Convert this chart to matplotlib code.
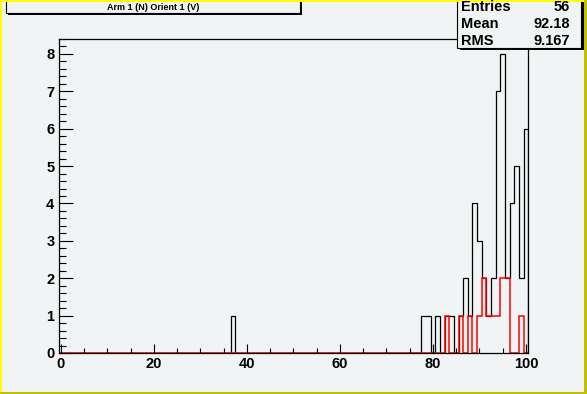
import numpy as np
import matplotlib
matplotlib.use('Agg')
import matplotlib.pyplot as plt
from matplotlib.patches import Rectangle
from matplotlib.ticker import MultipleLocator

# histogram contents (bin centre -> count), bins of width 1 from -0.5 to 100.5
all_bins = [37, 78, 79, 81, 83, 84, 86, 87, 88, 89, 90, 91, 92, 93, 94, 95, 96, 97, 98, 99, 100]
all_counts = [1, 1, 1, 1, 1, 1, 1, 2, 1, 4, 3, 2, 1, 2, 7, 8, 2, 4, 5, 2, 6]
red_bins = [83, 86, 88, 90, 91, 92, 93, 94, 95, 96, 99]
red_counts = [1, 1, 1, 1, 2, 1, 1, 1, 2, 2, 1]

title = 'Arm 1 (N) Orient 1 (V)'
stat_names = ['Entries', 'Mean', 'RMS']
stat_values = ['56', '92.18', '9.167']
x_ticks = [0, 20, 40, 60, 80, 100]
y_ticks = [0, 1, 2, 3, 4, 5, 6, 7, 8]

bg = '#f1f4f5'
W, H = 587, 394

edges = np.arange(-0.5, 101.5, 1.0)
h_all = np.zeros(101)
h_all[all_bins] = all_counts
h_red = np.zeros(101)
h_red[red_bins] = red_counts

fig = plt.figure(figsize=(W / 100, H / 100), dpi=100, facecolor=bg)
ax = fig.add_axes([58.5 / W, (H - 353) / H, (528.3 - 58.5) / W, (353 - 39) / H])
ax.set_facecolor(bg)

ax.stairs(h_all, edges, baseline=0, color='black', lw=0.9)
ax.stairs(h_red, edges, baseline=0, color='red', lw=1.1)

ax.set_xlim(-0.5, 100.5)
ax.set_ylim(0, 8.4)
ax.set_xticks(x_ticks)
ax.set_yticks(y_ticks)
ax.xaxis.set_minor_locator(MultipleLocator(5))
ax.yaxis.set_minor_locator(MultipleLocator(0.2))
ax.tick_params(axis='x', which='major', direction='in', length=6.8, width=0.8, pad=3, labelsize=10.5)
ax.tick_params(axis='x', which='minor', direction='in', length=3.4, width=0.8)
ax.tick_params(axis='y', which='major', direction='in', length=10, width=0.8, pad=3, labelsize=10.5)
ax.tick_params(axis='y', which='minor', direction='in', length=5, width=0.8)
for lab in ax.get_xticklabels() + ax.get_yticklabels():
    lab.set_fontweight('bold')
    lab.set_fontfamily('Liberation Sans')
for s in ax.spines.values():
    s.set_linewidth(0.9)

# overlay in pixel coordinates: canvas border, title box, stats box
ov = fig.add_axes([0, 0, 1, 1], zorder=5)
ov.set_xlim(0, W)
ov.set_ylim(H, 0)
ov.axis('off')
ov.patch.set_alpha(0)

# title box with shadow
ov.add_patch(Rectangle((8, -5), 294, 20, facecolor='black', edgecolor='none'))
ov.add_patch(Rectangle((6, -5), 294, 18, facecolor=bg, edgecolor='black', lw=0.8))
ov.text(153, 7.5, title, ha='center', va='center', fontsize=6.5, fontweight='bold',
        family='Liberation Sans')

# stats box with shadow
ov.add_patch(Rectangle((459.5, -5), 124, 55, facecolor='black', edgecolor='none'))
ov.add_patch(Rectangle((457, -5), 124, 52.5, facecolor=bg, edgecolor='black', lw=0.8))
for i, (n, v) in enumerate(zip(stat_names, stat_values)):
    yy = 6.5 + 17 * i
    ov.text(461, yy, n, ha='left', va='center', fontsize=10.5, fontweight='bold',
            family='Liberation Sans')
    ov.text(570, yy, v, ha='right', va='center', fontsize=10.5, fontweight='bold',
            family='Liberation Sans')

# canvas bevel border
ov.add_patch(Rectangle((0, 0), W, 2.2, facecolor='#ffff00', edgecolor='none'))
ov.add_patch(Rectangle((0, 0), 2.2, H, facecolor='#ffff00', edgecolor='none'))
ov.add_patch(Rectangle((0, H - 2.3), W, 2.3, facecolor='#c0c000', edgecolor='none'))
ov.add_patch(Rectangle((W - 3, 0), 3, H, facecolor='#c0c000', edgecolor='none'))

fig.savefig('out.png', dpi=100, facecolor=bg)
